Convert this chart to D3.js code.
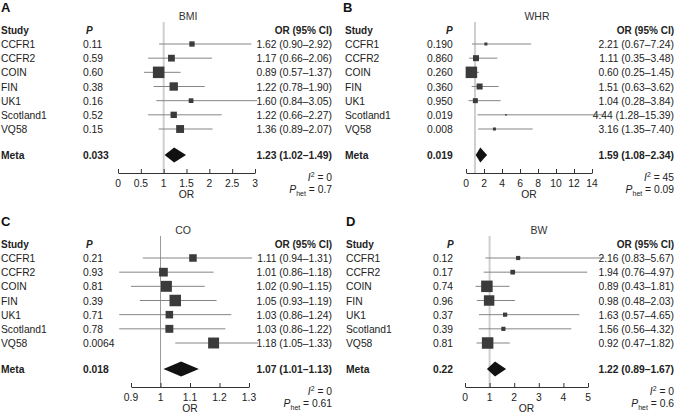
<!DOCTYPE html>
<html>
<head>
<meta charset="utf-8">
<script src="https://cdn.jsdelivr.net/npm/d3@7"></script>
<style>
  body { margin: 0; background: #fff; }
  svg { font-family: "Liberation Sans", Arial, sans-serif; }
</style>
</head>
<body>
<div id="viz"></div>
<script>
const WIDTH = 685, HEIGHT = 417;

const studies = ["CCFR1", "CCFR2", "COIN", "FIN", "UK1", "Scotland1", "VQ58"];
const letters = ["A", "B", "C", "D"];
const traits = ["BMI", "WHR", "CO", "BW"];

// per-study p values (as printed), odds ratios, CI bounds and relative weights
const pBMI = ["0.11", "0.59", "0.60", "0.38", "0.16", "0.52", "0.15"];
const orBMI = [1.62, 1.17, 0.89, 1.22, 1.60, 1.22, 1.36];
const loBMI = [0.90, 0.66, 0.57, 0.78, 0.84, 0.66, 0.89];
const hiBMI = [2.92, 2.06, 1.37, 1.90, 3.05, 2.27, 2.07];
const wBMI = [7, 11.5, 33, 17.5, 5.5, 10, 15.5];

const pWHR = ["0.190", "0.860", "0.260", "0.360", "0.950", "0.019", "0.008"];
const orWHR = [2.21, 1.11, 0.60, 1.51, 1.04, 4.44, 3.16];
const loWHR = [0.67, 0.35, 0.25, 0.63, 0.28, 1.28, 1.35];
const hiWHR = [7.24, 3.48, 1.45, 3.62, 3.84, 15.39, 7.40];
const wWHR = [3.6, 14.5, 53, 14.5, 10, 1, 3.6];

const pCO = ["0.21", "0.93", "0.81", "0.39", "0.71", "0.78", "0.0064"];
const orCO = [1.11, 1.01, 1.02, 1.05, 1.03, 1.03, 1.18];
const loCO = [0.94, 0.86, 0.90, 0.93, 0.86, 0.86, 1.05];
const hiCO = [1.31, 1.18, 1.15, 1.19, 1.24, 1.22, 1.33];
const wCO = [9, 12, 19, 21, 9, 10, 19];

const pBW = ["0.12", "0.17", "0.74", "0.96", "0.37", "0.39", "0.81"];
const orBW = [2.16, 1.94, 0.89, 0.98, 1.63, 1.56, 0.92];
const loBW = [0.83, 0.76, 0.43, 0.48, 0.57, 0.56, 0.47];
const hiBW = [5.67, 4.97, 1.81, 2.03, 4.65, 4.32, 1.82];
const wBW = [3.9, 4.9, 29.5, 24.4, 3.9, 3.9, 29.5];

// meta-analysis rows
const metaP = ["0.033", "0.019", "0.018", "0.22"];
const metaOR = [1.23, 1.59, 1.07, 1.22];
const metaLo = [1.02, 1.08, 1.01, 0.89];
const metaHi = [1.49, 2.34, 1.13, 1.67];
const i2 = ["0", "45", "0", "0"];
const pHet = ["0.7", "0.09", "0.61", "0.6"];

const ticksBMI = [0, 0.5, 1, 1.5, 2, 2.5, 3];
const ticksWHR = [0, 2, 4, 6, 8, 10, 12, 14];
const ticksCO = [0.9, 1, 1.1, 1.2, 1.3];
const ticksBW = [0, 1, 2, 3, 4, 5];

const series = [
  { p: pBMI, or: orBMI, lo: loBMI, hi: hiBMI, w: wBMI, ticks: ticksBMI },
  { p: pWHR, or: orWHR, lo: loWHR, hi: hiWHR, w: wWHR, ticks: ticksWHR },
  { p: pCO, or: orCO, lo: loCO, hi: hiCO, w: wCO, ticks: ticksCO },
  { p: pBW, or: orBW, lo: loBW, hi: hiBW, w: wBW, ticks: ticksBW }
];

// layout of each panel (pixels)
const layout = [
  { ox: 0, oy: 0, studyX: 1, pHdrX: 86, pValX: 83, x0: 118, x1: 255, orX: 332, titleX: 188, letterX: 1, refC: "#cfcfcf", refW: 2 },
  { ox: 340, oy: 0, studyX: 5, pHdrX: 106, pValX: 87, x0: 126, x1: 252, orX: 334, titleX: 197, letterX: 3, refC: "#cfcfcf", refW: 2 },
  { ox: 0, oy: 214, studyX: 1, pHdrX: 86, pValX: 83, x0: 131, x1: 249, orX: 332, titleX: 183, letterX: 1, refC: "#9a9a9a", refW: 1 },
  { ox: 340, oy: 214, studyX: 6, pHdrX: 107, pValX: 93, x0: 125, x1: 248, orX: 334, titleX: 199, letterX: 6, refC: "#cfcfcf", refW: 2 }
];

const rowY = d3.scalePoint().domain(studies).range([44, 129]);
const META_Y = 155, AXIS_Y = 173;
const fmt = d3.format(".2f");
const TXT = "#222";

const svg = d3.select("#viz").append("svg")
  .attr("width", WIDTH).attr("height", HEIGHT)
  .attr("viewBox", `0 0 ${WIDTH} ${HEIGHT}`);

series.forEach((s, k) => {
  const L = layout[k];
  const g = svg.append("g").attr("transform", `translate(${L.ox},${L.oy})`);
  const x = d3.scaleLinear().domain(d3.extent(s.ticks)).range([L.x0, L.x1]);
  const size = d3.scaleSqrt().domain([0, d3.max(s.w)]).range([0, 11.5]);

  g.append("text").attr("x", L.letterX).attr("y", 12)
    .attr("font-size", 13).attr("font-weight", "bold").attr("fill", "#111").text(letters[k]);
  g.append("text").attr("x", L.titleX).attr("y", 20).attr("text-anchor", "middle")
    .attr("font-size", 10.5).attr("fill", "#333").text(traits[k]);

  // headers
  g.append("text").attr("x", L.studyX).attr("y", 34).attr("font-size", 10)
    .attr("font-weight", "bold").attr("fill", TXT).text("Study");
  g.append("text").attr("x", L.pHdrX).attr("y", 34).attr("font-size", 10)
    .attr("font-weight", "bold").attr("font-style", "italic").attr("fill", TXT).text("P");
  g.append("text").attr("x", L.orX).attr("y", 34).attr("text-anchor", "end").attr("font-size", 10)
    .attr("font-weight", "bold").attr("fill", TXT).text("OR (95% CI)");

  // reference line at OR = 1
  g.append("line").attr("x1", x(1)).attr("x2", x(1)).attr("y1", 22).attr("y2", AXIS_Y)
    .attr("stroke", L.refC).attr("stroke-width", L.refW);

  const rows = studies.map((name, i) => ({ name, p: s.p[i], or: s.or[i], lo: s.lo[i], hi: s.hi[i], w: s.w[i] }));

  const r = g.selectAll("g.row").data(rows).join("g").attr("class", "row")
    .attr("transform", d => `translate(0,${rowY(d.name)})`);
  r.append("line").attr("x1", d => x(d.lo)).attr("x2", d => x(d.hi))
    .attr("stroke", "#858585").attr("stroke-width", 1);
  r.append("rect")
    .attr("x", d => x(d.or) - size(d.w) / 2).attr("y", d => -size(d.w) / 2)
    .attr("width", d => size(d.w)).attr("height", d => size(d.w))
    .attr("fill", "#3b3b3b");
  r.append("text").attr("x", L.studyX).attr("y", 4).attr("font-size", 10.3).attr("fill", TXT).text(d => d.name);
  r.append("text").attr("x", L.pValX).attr("y", 4).attr("font-size", 10.3).attr("fill", TXT).text(d => d.p);
  r.append("text").attr("x", L.orX).attr("y", 4).attr("text-anchor", "end").attr("font-size", 10.3)
    .attr("fill", TXT).text(d => `${fmt(d.or)} (${fmt(d.lo)}\u2013${fmt(d.hi)})`);

  // meta row
  const m = g.append("g").attr("transform", `translate(0,${META_Y})`);
  m.append("path")
    .attr("d", `M${x(metaLo[k])},0L${x(metaOR[k])},-7.5L${x(metaHi[k])},0L${x(metaOR[k])},7.5Z`)
    .attr("fill", "#111");
  m.append("text").attr("x", L.studyX).attr("y", 4).attr("font-size", 10.3)
    .attr("font-weight", "bold").attr("fill", TXT).text("Meta");
  m.append("text").attr("x", L.pValX).attr("y", 4).attr("font-size", 10.3)
    .attr("font-weight", "bold").attr("fill", TXT).text(metaP[k]);
  m.append("text").attr("x", L.orX).attr("y", 4).attr("text-anchor", "end").attr("font-size", 10.3)
    .attr("font-weight", "bold").attr("fill", TXT)
    .text(`${fmt(metaOR[k])} (${fmt(metaLo[k])}\u2013${fmt(metaHi[k])})`);

  // axis
  const ax = g.append("g").attr("transform", `translate(0,${AXIS_Y})`)
    .call(d3.axisTop(x).tickValues(s.ticks).tickSize(4).tickSizeOuter(0).tickFormat(""));
  ax.select(".domain").attr("stroke", "#333");
  ax.selectAll(".tick line").attr("stroke", "#333");
  g.selectAll("text.tick-label").data(s.ticks).join("text").attr("class", "tick-label")
    .attr("x", d => x(d)).attr("y", AXIS_Y + 14).attr("text-anchor", "middle")
    .attr("font-size", 10.3).attr("fill", TXT).text(d => String(d));
  g.append("text").attr("x", (L.x0 + L.x1) / 2).attr("y", AXIS_Y + 25).attr("text-anchor", "middle")
    .attr("font-size", 10.3).attr("fill", TXT).text("OR");

  // heterogeneity
  const h1 = g.append("text").attr("x", L.orX).attr("y", AXIS_Y + 8).attr("text-anchor", "end")
    .attr("font-size", 10.3).attr("fill", TXT);
  h1.append("tspan").attr("font-style", "italic").text("I");
  h1.append("tspan").attr("dy", -4).attr("font-size", 7).text("2");
  h1.append("tspan").attr("dy", 4).text(` = ${i2[k]}`);
  const h2 = g.append("text").attr("x", L.orX).attr("y", AXIS_Y + 20).attr("text-anchor", "end")
    .attr("font-size", 10.3).attr("fill", TXT);
  h2.append("tspan").attr("font-style", "italic").text("P");
  h2.append("tspan").attr("dy", 2.5).attr("font-size", 7).text("het");
  h2.append("tspan").attr("dy", -2.5).text(` = ${pHet[k]}`);
});
</script>
</body>
</html>
